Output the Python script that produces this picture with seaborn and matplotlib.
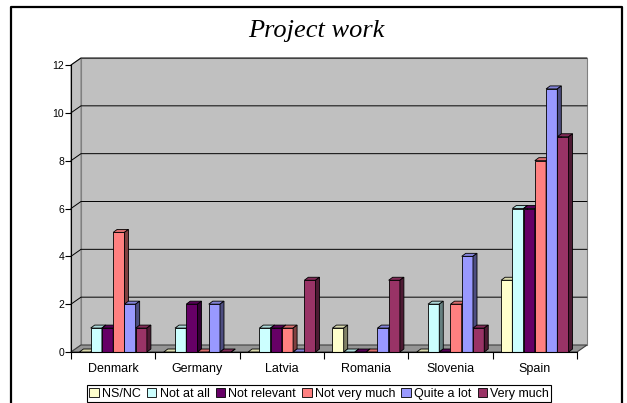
import numpy as np
import pandas as pd
import seaborn as sns
import matplotlib.pyplot as plt
import matplotlib.colors as mcolors
from matplotlib.patches import Polygon, Rectangle, Patch
from matplotlib.lines import Line2D
from matplotlib.transforms import IdentityTransform

# Datos del grafico
countries = ["Denmark", "Germany", "Latvia", "Romania", "Slovenia", "Spain"]
answers = ["NS/NC", "Not at all", "Not relevant", "Not very much", "Quite a lot", "Very much"]
ns_nc = [0, 0, 0, 1, 0, 3]
not_at_all = [1, 1, 1, 0, 2, 6]
not_relevant = [1, 2, 1, 0, 0, 6]
not_very_much = [5, 0, 1, 0, 2, 8]
quite_a_lot = [2, 2, 0, 1, 4, 11]
very_much = [1, 0, 3, 3, 1, 9]
colores = ["#FFFFCC", "#CCFFFF", "#660066", "#FF8080", "#9999FF", "#993366"]
yticks = [0, 2, 4, 6, 8, 10, 12]

series = [ns_nc, not_at_all, not_relevant, not_very_much, quite_a_lot, very_much]
filas = []
for resp, vals in zip(answers, series):
    for pais, v in zip(countries, vals):
        filas.append({"pais": pais, "respuesta": resp, "valor": v})
df = pd.DataFrame(filas)

sns.set_theme(style="white")
plt.rcParams["font.family"] = ["Liberation Sans", "DejaVu Sans"]
plt.rcParams["text.color"] = "black"
plt.rcParams["xtick.color"] = "black"
plt.rcParams["ytick.color"] = "black"
plt.rcParams["axes.labelcolor"] = "black"

W, H = 627, 403
fig = plt.figure(figsize=(W / 100, H / 100), dpi=100)
ax = fig.add_axes([71 / W, 1 - 352 / H, (577 - 71) / W, (352 - 65) / H])

sns.barplot(data=df, x="pais", y="valor", hue="respuesta", order=countries,
            hue_order=answers, palette=colores, saturation=1, width=0.8,
            edgecolor="black", linewidth=0.6, legend=False, ax=ax)
bars = sorted([p for p in ax.patches if isinstance(p, Rectangle)], key=lambda p: p.get_x())

ax.set_xlim(-0.5, len(countries) - 0.5)
ax.set_ylim(0, 12)
ax.patch.set_visible(False)
ax.set_xlabel("")
ax.set_ylabel("")
for s in ["top", "right"]:
    ax.spines[s].set_visible(False)
for s in ["left", "bottom"]:
    ax.spines[s].set_color("black")
    ax.spines[s].set_linewidth(0.8)

ax.set_yticks(yticks)
ax.tick_params(axis="y", labelsize=7.5, length=4, width=0.8, color="black", labelcolor="black",
               left=True, pad=1)
ax.set_xticks(range(len(countries)))
ax.set_xticklabels(countries)
ax.set_xticks(np.arange(-0.5, len(countries)), minor=True)
ax.tick_params(axis="x", which="major", labelsize=9, length=0, pad=8, labelcolor="black")
ax.tick_params(axis="x", which="minor", length=5, width=0.8, color="black", bottom=True)


def px(x, y):
    return ax.transData.transform((x, y))


# Paredes en 3D
dx, dy = 10, 7
x0, y0 = px(-0.5, 0)
x1, y1 = px(len(countries) - 0.5, 12)
idt = IdentityTransform()
pared = Rectangle((x0 + dx, y0 + dy), x1 - x0, y1 - y0, transform=idt,
                  fc="#C0C0C0", ec="#808080", lw=0.8, zorder=0.2, clip_on=False)
lado = Polygon([(x0, y0), (x0 + dx, y0 + dy), (x0 + dx, y1 + dy), (x0, y1)], transform=idt,
               fc="#C0C0C0", ec="#808080", lw=0.8, zorder=0.3, clip_on=False)
piso = Polygon([(x0, y0), (x1, y0), (x1 + dx, y0 + dy), (x0 + dx, y0 + dy)], transform=idt,
               fc="#959595", ec="#404040", lw=0.8, zorder=0.4, clip_on=False)
for a in [pared, lado, piso]:
    ax.add_artist(a)
for t in yticks[1:]:
    yy = px(0, t)[1]
    ax.add_artist(Line2D([x0, x0 + dx, x1 + dx], [yy, yy + dy, yy + dy], transform=idt,
                         color="black", lw=0.7, zorder=0.5, clip_on=False))

# Barras con cara superior y lateral
bdx, bdy = 4, 3
for i, p in enumerate(bars):
    z = 2 + i * 0.01
    p.set_zorder(z)
    col = np.array(mcolors.to_rgb(p.get_facecolor()))
    l, b = px(p.get_x(), 0)
    r, t = px(p.get_x() + p.get_width(), p.get_height())
    arriba = Polygon([(l, t), (r, t), (r + bdx, t + bdy), (l + bdx, t + bdy)], transform=idt,
                     fc=col * 0.85, ec="black", lw=0.6, zorder=z, clip_on=False)
    costado = Polygon([(r, b), (r, t), (r + bdx, t + bdy), (r + bdx, b + bdy)], transform=idt,
                      fc=col * 0.5, ec="black", lw=0.6, zorder=z, clip_on=False)
    ax.add_artist(arriba)
    ax.add_artist(costado)

# Leyenda
handles = [Patch(fc=c, ec="black", lw=0.6, label=a) for c, a in zip(colores, answers)]
leg = fig.legend(handles=handles, loc="lower center", bbox_to_anchor=(0.509, 0.002), ncol=6,
                 fontsize=9, frameon=True, fancybox=False, edgecolor="black", framealpha=1,
                 handlelength=0.75, handleheight=0.75, handletextpad=0.25, columnspacing=0.5,
                 borderpad=0.2, borderaxespad=0)
leg.get_frame().set_linewidth(0.8)

# Titulo y marco
fig.text(316 / W, 1 - 31 / H, "Project work", fontsize=19, family="Liberation Serif",
         style="italic", ha="center", va="center", color="black")
fig.add_artist(Line2D([11 / W, 11 / W, 622 / W, 622 / W], [0, 1 - 7 / H, 1 - 7 / H, 0],
                      transform=fig.transFigure, color="black", lw=1.6))

fig.savefig("out.png", dpi=100)
